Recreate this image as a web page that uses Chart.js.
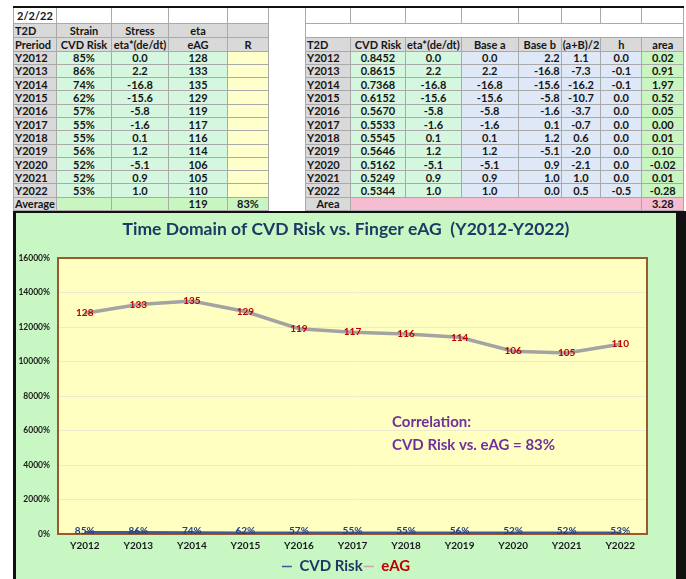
<!DOCTYPE html>
<html>
<head>
<meta charset="utf-8">
<script src="https://cdn.jsdelivr.net/npm/chart.js@4.4.1/dist/chart.umd.min.js"></script>
<style>
  body { margin: 0; width: 686px; height: 579px; overflow: hidden; position: relative; background: #fff; font-family: Lato, "Open Sans", sans-serif; }
  #sheet { position: absolute; left: 13px; top: 6px; border-collapse: collapse; table-layout: fixed; border-top: 2px solid #111; border-left: 1px solid #555; }
  #sheet td { border: 1px solid #a9a9a9; padding: 0 1px; font-weight: bold; font-size: 11px; color: #151515; text-align: center; white-space: nowrap; overflow: hidden; line-height: 1; }
  #sheet td.l { text-align: left; }
  #sheet td.r { text-align: right; }
  #sheet td.gap { border-top: none; border-bottom: none; background: #fff; }
  .hd { background: #d9d9d9; }
  .mint { background: #d6f7df; }
  .yel { background: #ffffcc; }
  .grn { background: #c8f5c0; }
  .blu { background: #dfe8f6; }
  .pnk { background: #f5bcd2; }
  #panel { position: absolute; left: 13px; top: 211px; width: 660px; height: 366px; background: #c8f7c3; border-left: 3px solid #111; border-right: 10px solid #111; border-top: 2px solid #111; }
  #panel canvas { display: block; }
</style>
</head>
<body>
<table id="sheet"></table>
<div id="panel"><canvas id="cvdChart" width="660" height="366"></canvas></div>

<script>
// ====== Data ======
const years = ['Y2012', 'Y2013', 'Y2014', 'Y2015', 'Y2016', 'Y2017', 'Y2018', 'Y2019', 'Y2020', 'Y2021', 'Y2022'];
const cvdRisk = [0.8452, 0.8615, 0.7368, 0.6152, 0.5670, 0.5533, 0.5545, 0.5646, 0.5162, 0.5249, 0.5344];
const stress = [0.0, 2.2, -16.8, -15.6, -5.8, -1.6, 0.1, 1.2, -5.1, 0.9, 1.0];
const eAG = [128, 133, 135, 129, 119, 117, 116, 114, 106, 105, 110];
const baseA = [0.0, 2.2, -16.8, -15.6, -5.8, -1.6, 0.1, 1.2, -5.1, 0.9, 1.0];
const baseB = [2.2, -16.8, -15.6, -5.8, -1.6, 0.1, 1.2, -5.1, 0.9, 1.0, 0.0];
const halfSum = [1.1, -7.3, -16.2, -10.7, -3.7, -0.7, 0.6, -2.0, -2.1, 1.0, 0.5];
const hVals = [0.0, -0.1, -0.1, 0.0, 0.0, 0.0, 0.0, 0.0, 0.0, 0.0, -0.5];
const areaVals = [0.02, 0.91, 1.97, 0.52, 0.05, 0.00, 0.01, 0.10, -0.02, 0.01, -0.28];
const eAGAverage = 119;
const corrR = '83%';
const totalArea = '3.28';
const sheetDate = '2/2/22';
const yMax = 160;
const yStep = 20;

// ====== Spreadsheet ======
const colWidths = [43, 55, 57, 59, 41, 37, 45, 55, 53, 57, 43, 39, 41, 42];
const pct = v => Math.round(v * 100) + '%';

function td(text, cls) {
  return `<td class="${cls || ''}">${text}</td>`;
}

let html = '<colgroup>' + colWidths.map(w => `<col style="width:${w}px">`).join('') + '</colgroup>';
html += '<tr style="height:16px">' + td(sheetDate) + td('') + td('') + td('') + td('') + td('', 'gap') + td('') + td('') + td('') + td('') + td('') + td('') + td('') + td('') + '</tr>';
html += '<tr style="height:14px">' + td('T2D', 'hd l') + td('Strain', 'hd') + td('Stress', 'hd') + td('eta', 'hd') + td('', 'hd') + td('', 'gap') + '<td colspan="8"></td></tr>';
html += '<tr style="height:14px">' + td('Preriod', 'hd l') + td('CVD Risk', 'hd') + td('eta*(de/dt)', 'hd') + td('eAG', 'hd') + td('R', 'hd') + td('', 'gap') +
  td('T2D', 'hd l') + td('CVD Risk', 'hd') + td('eta*(de/dt)', 'hd') + td('Base a', 'hd') + td('Base b', 'hd') + td('(a+B)/2', 'hd') + td('h', 'hd') + td('area', 'hd') + '</tr>';
years.forEach((y, i) => {
  html += '<tr style="height:13.3px">' + td(y, 'hd l') + td(pct(cvdRisk[i]), 'mint') + td(stress[i].toFixed(1), 'mint') + td(eAG[i], 'mint') + td('', 'yel') + td('', 'gap') +
    td(y, 'hd l') + td(cvdRisk[i].toFixed(4), 'mint') + td(stress[i].toFixed(1), 'mint') + td(baseA[i].toFixed(1), 'blu') + td(baseB[i].toFixed(1), 'blu r') +
    td(halfSum[i].toFixed(1), 'blu') + td(hVals[i].toFixed(1), 'blu') + td(areaVals[i].toFixed(2), 'grn') + '</tr>';
});
html += '<tr style="height:13px">' + td('Average', 'hd l') + td('', 'grn') + td('', 'grn') + td(eAGAverage, 'grn') + td(corrR, 'grn') + td('', 'gap') +
  td('Area', 'hd') + '<td colspan="6" class="pnk"></td>' + td(totalArea, 'pnk') + '</tr>';
document.getElementById('sheet').innerHTML = html;

// ====== Chart plugins ======
const plotFrame = {
  id: 'plotFrame',
  beforeDraw(chart) {
    const { ctx, chartArea: a } = chart;
    ctx.save();
    ctx.fillStyle = '#ffffc2';
    ctx.fillRect(a.left, a.top, a.width, a.height);
    ctx.restore();
  },
  beforeDatasetsDraw(chart) {
    const { ctx, chartArea: a } = chart;
    ctx.save();
    ctx.strokeStyle = '#9a5a2c';
    ctx.lineWidth = 2;
    ctx.strokeRect(a.left, a.top, a.width, a.height);
    ctx.restore();
  }
};

const pointLabels = {
  id: 'pointLabels',
  afterDatasetsDraw(chart) {
    const ctx = chart.ctx;
    ctx.save();
    ctx.font = 'bold 10px Lato';
    ctx.textAlign = 'center';
    ctx.textBaseline = 'middle';
    chart.data.datasets.forEach((ds, i) => {
      ctx.fillStyle = ds.labelColor;
      chart.getDatasetMeta(i).data.forEach((pt, j) => {
        const txt = ds.asPercent ? pct(ds.data[j]) : String(ds.data[j]);
        ctx.fillText(txt, pt.x, pt.y + ds.labelShift);
      });
    });
    ctx.restore();
  }
};

const corrNote = {
  id: 'corrNote',
  afterDraw(chart) {
    const { ctx, chartArea: a } = chart;
    ctx.save();
    ctx.font = 'bold 15px Lato';
    ctx.fillStyle = '#7030a0';
    ctx.textBaseline = 'middle';
    ctx.fillText('Correlation:', a.left + 334, a.top + 164);
    ctx.fillText('CVD Risk vs. eAG = ' + corrR, a.left + 334, a.top + 187);
    ctx.restore();
  }
};

// ====== Chart ======
const ctx = document.getElementById('cvdChart').getContext('2d');

const cvdChart = new Chart(ctx, {
  type: 'line',
  data: {
    labels: years,
    datasets: [{
      label: 'CVD Risk',
      data: cvdRisk,
      borderColor: '#3a5a9c',
      borderWidth: 3,
      pointRadius: 0,
      labelColor: '#233f80',
      legendColor: '#1f3864',
      legendLine: '#3a5a9c',
      labelShift: -2,
      asPercent: true
    }, {
      label: 'eAG',
      data: eAG,
      borderColor: '#a3a3a3',
      borderWidth: 3.5,
      pointRadius: 0,
      labelColor: '#c00000',
      legendColor: '#c00000',
      legendLine: '#c4a4a4',
      labelShift: 0,
      asPercent: false
    }]
  },
  options: {
    responsive: false,
    animation: false,
    layout: {
      padding: { left: 0, right: 0, top: 0, bottom: -5 }
    },
    scales: {
      x: {
        offset: true,
        grid: { display: false, drawTicks: false },
        border: { display: false },
        afterFit: s => { s.height = 24; },
        ticks: {
          padding: 6,
          maxRotation: 0,
          color: '#1a1a1a',
          font: { family: 'Lato', size: 10, weight: 'bold' }
        }
      },
      y: {
        min: 0,
        max: yMax,
        grid: { color: '#eeead0', drawTicks: false },
        border: { display: false },
        afterFit: s => { s.width = 42; },
        ticks: {
          stepSize: yStep,
          padding: 8,
          color: '#1a1a1a',
          font: { family: 'Lato', size: 8.5, weight: 'bold' },
          callback: v => (v * 100) + '%'
        }
      },
      yRight: {
        position: 'right',
        grid: { display: false },
        border: { display: false },
        ticks: { display: false },
        afterFit: s => { s.width = 29; }
      }
    },
    plugins: {
      title: {
        display: true,
        text: 'Time Domain of CVD Risk vs. Finger eAG  (Y2012-Y2022)',
        color: '#1f3864',
        font: { family: 'Lato', size: 17.5, weight: 'bold' },
        padding: { top: 6, bottom: 18 }
      },
      legend: {
        position: 'bottom',
        labels: {
          usePointStyle: true,
          pointStyle: 'line',
          pointStyleWidth: 10,
          boxHeight: 10,
          padding: 1,
          font: { family: 'Lato', size: 15, weight: 'bold' },
          generateLabels(chart) {
            const items = Chart.defaults.plugins.legend.labels.generateLabels(chart);
            items.forEach(it => {
              const ds = chart.data.datasets[it.datasetIndex];
              it.fontColor = ds.legendColor;
              it.strokeStyle = ds.legendLine;
              it.lineWidth = 1.5;
            });
            return items;
          }
        }
      },
      tooltip: { enabled: false }
    }
  },
  plugins: [plotFrame, pointLabels, corrNote]
});
</script>
</body>
</html>
